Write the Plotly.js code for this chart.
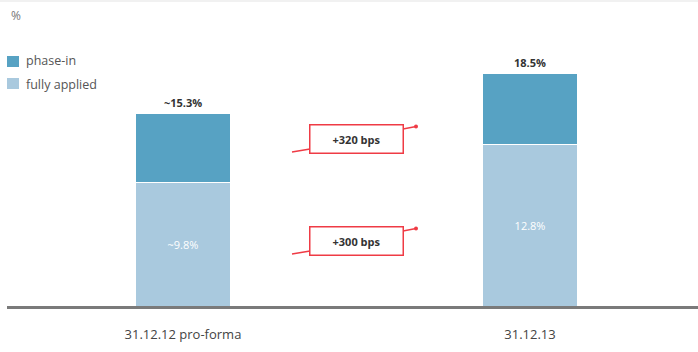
<!DOCTYPE html>
<html><head><meta charset="utf-8">
<script src="https://cdn.plot.ly/plotly-3.0.1.min.js"></script>
<style>html,body{margin:0;padding:0;background:#fff;}#chart{width:698px;height:352px;}</style>
</head><body><div id="chart"></div>
<script>
const categories = ["31.12.12 pro-forma", "31.12.13"];
const fullyApplied = [9.8, 12.8];
const phaseIn = [5.5, 5.7];
const totals = [15.3, 18.5];
const fullyLabels = ["~9.8%", "12.8%"];
const totalLabels = ["~15.3%", "18.5%"];
const callouts = ["+320 bps", "+300 bps"];
const seriesNames = ["phase-in", "fully applied"];

const W = 698, H = 352, L = 7, B = 46;
const plotW = W - L, plotH = H - B;
const px = x => (x - L) / plotW;
const py = y => (plotH - y) / plotH;
const red = '#ef3b45';
const cPhase = '#57a2c3', cFully = '#a9c9de';

const traces = [
  {type:'bar', name:seriesNames[1], x:categories, y:fullyApplied, marker:{color:cFully, line:{color:'#fff', width:1}},
   text:fullyLabels, textposition:'inside', insidetextanchor:'middle', textangle:0, constraintext:'none',
   textfont:{color:'#ffffff', size:11, family:'Open Sans, sans-serif'}, width:0.274, hoverinfo:'skip'},
  {type:'bar', name:seriesNames[0], x:categories, y:phaseIn, marker:{color:cPhase, line:{color:'#fff', width:1}},
   width:0.274, hoverinfo:'skip'}
];

const annotations = categories.map((c,i)=>({x:c, y:totals[i], xref:'x', yref:'y', text:'<b>'+totalLabels[i]+'</b>',
  showarrow:false, yanchor:'bottom', yshift:1, font:{size:11, color:'#333', family:'Open Sans, sans-serif'}}));

annotations.push({xref:'paper', yref:'paper', x:px(9), y:py(15), text:'%', showarrow:false, xanchor:'left', yanchor:'middle',
  font:{size:12, color:'#777', family:'Open Sans, sans-serif'}});
annotations.push({xref:'paper', yref:'paper', x:px(24), y:py(61), text:seriesNames[0], showarrow:false, xanchor:'left', yanchor:'middle',
  font:{size:12.5, color:'#555', family:'Open Sans, sans-serif'}});
annotations.push({xref:'paper', yref:'paper', x:px(24), y:py(84), text:seriesNames[1], showarrow:false, xanchor:'left', yanchor:'middle',
  font:{size:12.5, color:'#555', family:'Open Sans, sans-serif'}});

const boxY = [139, 241];
callouts.forEach((t,i)=>{
  annotations.push({xref:'paper', yref:'paper', x:px(356.5), y:py(boxY[i]), text:'<b>'+t+'</b>', showarrow:false,
    xanchor:'center', yanchor:'middle',
    width:90, height:25, bordercolor:red, borderwidth:1.5, bgcolor:'#fff',
    font:{size:11, color:'#333', family:'Open Sans, sans-serif'}});
});

const shapes = [
  {type:'line', xref:'paper', yref:'paper', x0:px(0), x1:px(698), y0:py(1), y1:py(1), line:{color:'#e3e3e3', width:1}},
  {type:'rect', xref:'paper', yref:'paper', x0:px(7), x1:px(19), y0:py(56), y1:py(67), fillcolor:cPhase, line:{width:0}},
  {type:'rect', xref:'paper', yref:'paper', x0:px(7), x1:px(19), y0:py(78), y1:py(89), fillcolor:cFully, line:{width:0}}
];
boxY.forEach(by=>{
  shapes.push({type:'line', xref:'paper', yref:'paper', x0:px(292), y0:py(by+13), x1:px(310), y1:py(by+10), line:{color:red, width:1.3}});
  shapes.push({type:'line', xref:'paper', yref:'paper', x0:px(403), y0:py(by-10), x1:px(416), y1:py(by-12.5), line:{color:red, width:1.3}});
  shapes.push({type:'circle', xref:'paper', yref:'paper', x0:px(414), y0:py(by-10.5), x1:px(418), y1:py(by-14.5), fillcolor:red, line:{width:0}});
});

const layout = {
  width:W, height:H, margin:{l:L, r:0, t:0, b:B},
  paper_bgcolor:'#fff', plot_bgcolor:'#fff', barmode:'stack', showlegend:false,
  xaxis:{type:'category', range:[-0.507, 1.484], showline:true, linecolor:'#7a7a7a', linewidth:3,
    showgrid:false, zeroline:false, ticks:'outside', ticklen:14, tickcolor:'rgba(0,0,0,0)',
    tickfont:{size:13, color:'#444', family:'Open Sans, sans-serif'}},
  yaxis:{range:[0, 24.3], visible:false, fixedrange:true},
  annotations:annotations, shapes:shapes
};
Plotly.newPlot('chart', traces, layout, {displayModeBar:false, staticPlot:true});
</script></body></html>
